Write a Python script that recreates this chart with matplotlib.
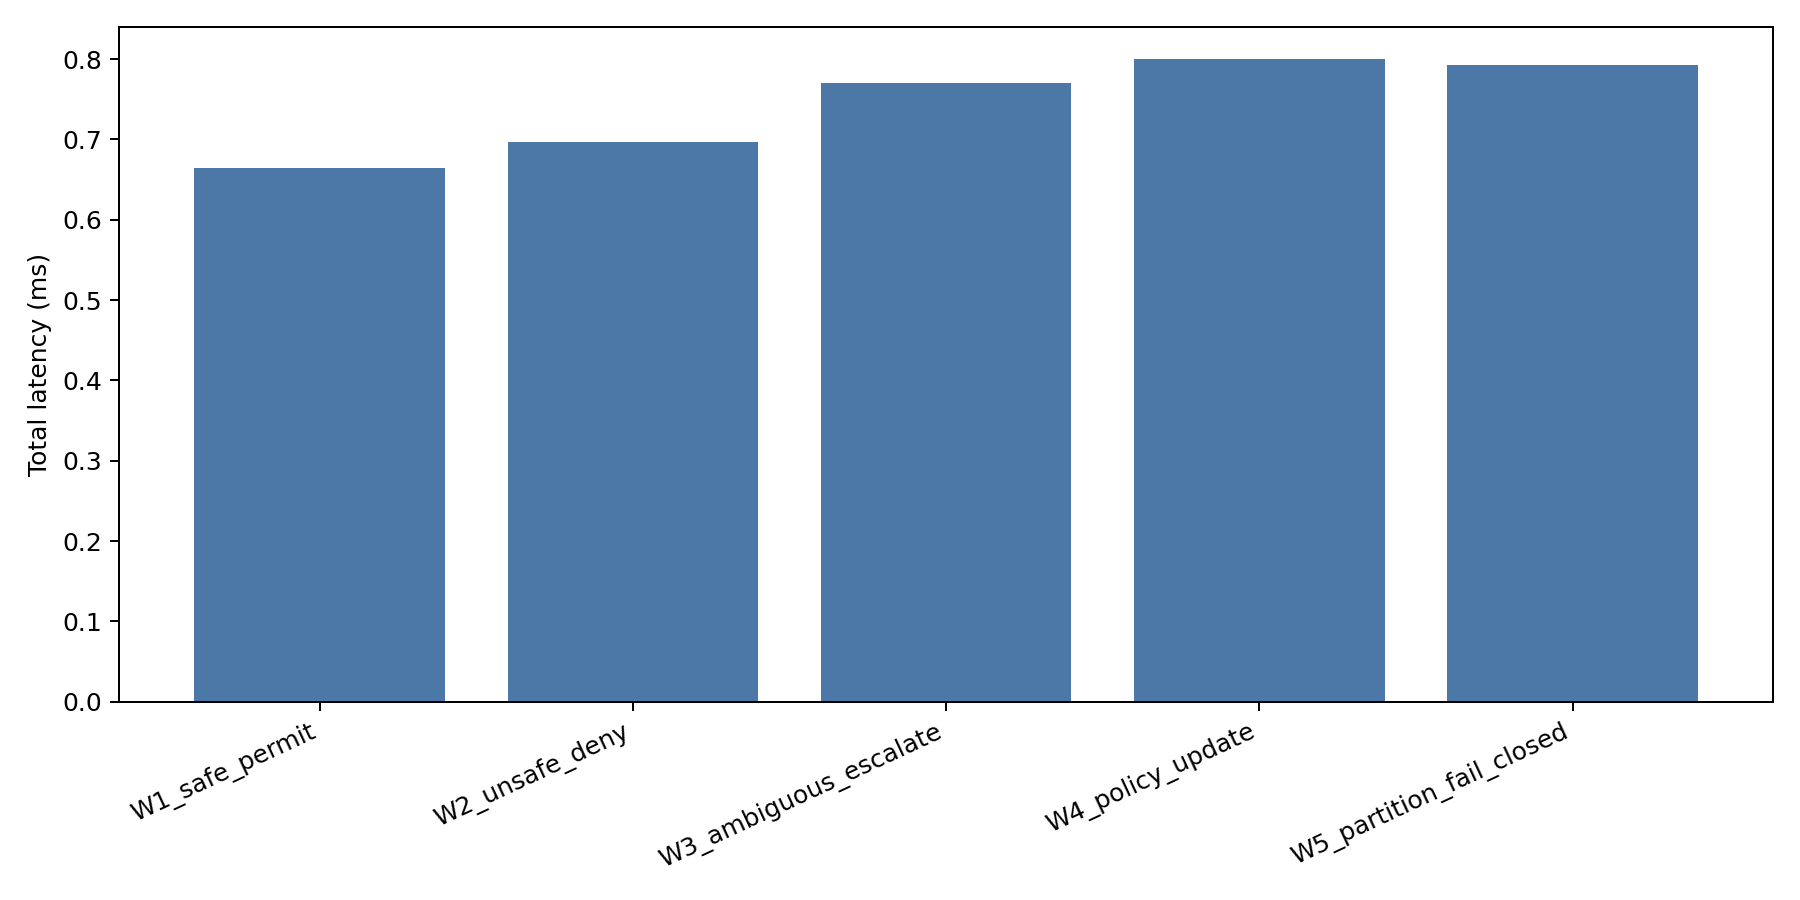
import matplotlib
matplotlib.use("Agg")
from matplotlib import pyplot as plt

workloads = ['W1_safe_permit', 'W2_unsafe_deny', 'W3_ambiguous_escalate',
             'W4_policy_update', 'W5_partition_fail_closed']
latency_ms = [0.665, 0.697, 0.770, 0.800, 0.793]

fig, ax = plt.subplots(figsize=(10, 5))
ax.bar(workloads, latency_ms, color='#4c78a8')
ax.set_ylabel("Total latency (ms)")
plt.setp(ax.get_xticklabels(), rotation=25, ha='right')
fig.tight_layout()
fig.savefig("out.png", dpi=180)
